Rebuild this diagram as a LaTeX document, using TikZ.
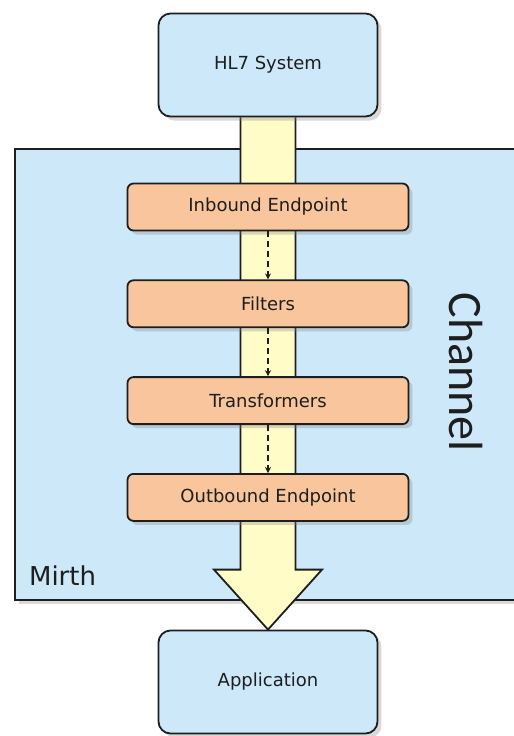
\documentclass[tikz,border=0pt]{standalone}
\usepackage{fontspec}
\setmainfont{DejaVu Sans}
\newfontfamily\chanfont{Carlito}
\usetikzlibrary{positioning, arrows.meta, shadows, backgrounds}
\definecolor{chanblue}{HTML}{CCE8F9}
\definecolor{stageorange}{HTML}{F9C59C}
\definecolor{shaftyellow}{HTML}{FFFCC8}
\definecolor{edgegray}{HTML}{1E1E1E}

\begin{document}
\begin{tikzpicture}[x=0.5pt, y=-0.5pt,
		boxshadow/.style={drop shadow={shadow xshift=2pt, shadow yshift=-2pt, opacity=0.3}},
		sysbox/.style={rectangle, rounded corners=6pt, draw=edgegray, line width=0.9pt, fill=chanblue,
			minimum width=109.5pt, minimum height=51.5pt, align=center, text=edgegray,
			font=\fontsize{9}{11}\selectfont, boxshadow},
		stagebox/.style={rectangle, rounded corners=3pt, draw=edgegray, line width=0.9pt, fill=stageorange,
			minimum width=140.5pt, minimum height=23.5pt, align=center, text=edgegray,
			font=\fontsize{9}{11}\selectfont, boxshadow},
		flow/.style={-{Stealth[length=3pt, width=3pt]}, dash pattern=on 3pt off 2pt, draw=edgegray, line width=0.6pt},
		shaft/.style={draw=edgegray, line width=0.9pt, fill=shaftyellow},
		]
	\useasboundingbox (0,0) rectangle (514,736);

	% Systems
	\node[sysbox] (hl7) at (268,65) {HL7 System};
	\node[sysbox] (app) at (268,682) {Application};

	% Channel stages
	\node[stagebox] (inbound) at (268,207) {Inbound Endpoint};
	\node[stagebox, below=24pt of inbound] (filters) {Filters};
	\node[stagebox, below=24pt of filters] (transformers) {Transformers};
	\node[stagebox, below=24pt of transformers] (outbound) {Outbound Endpoint};

	% Mirth box and big arrow
	\begin{scope}[on background layer]
		\draw[line width=0.9pt, draw=edgegray, fill=chanblue, boxshadow] (15,149) rectangle (530,600);
		\draw[shaft] ([xshift=-13.75pt]hl7.south) -- ([xshift=-13.75pt, yshift=30pt]app.north)
			-- ([xshift=-27pt, yshift=30pt]app.north) -- (app.north)
			-- ([xshift=27pt, yshift=30pt]app.north) -- ([xshift=13.75pt, yshift=30pt]app.north)
			-- ([xshift=13.75pt]hl7.south);
	\end{scope}

	% Labels
	\node[anchor=west, text=edgegray, font=\fontsize{13}{15}\selectfont] (mirth) at (22,576) {Mirth};
	\node[rotate=-90, text=edgegray, font=\chanfont\fontsize{24}{28}\selectfont] (channel) at (466,372) {Channel};

	% Flow
	\draw[flow] (inbound) -- (filters);
	\draw[flow] (filters) -- (transformers);
	\draw[flow] (transformers) -- (outbound);
\end{tikzpicture}
\end{document}
